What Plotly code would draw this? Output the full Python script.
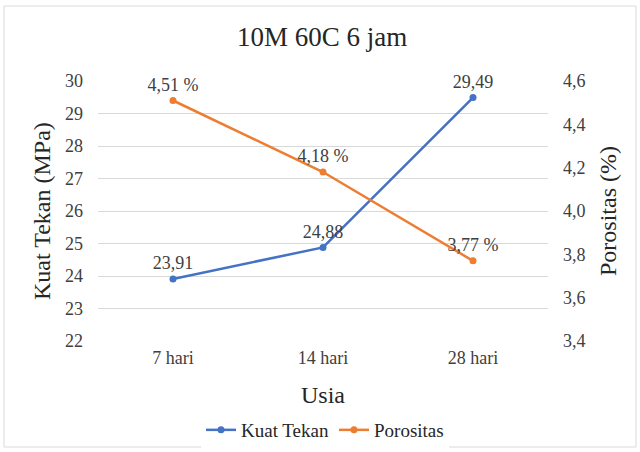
import plotly.graph_objects as go

categories = ["7 hari", "14 hari", "28 hari"]
kuat_tekan = [23.91, 24.88, 29.49]
porositas = [4.51, 4.18, 3.77]
kt_labels = ["23,91", "24,88", "29,49"]
po_labels = ["4,51 %", "4,18 %", "3,77 %"]

FONT = "Liberation Serif, Times New Roman, serif"
BLUE = "#4472C4"
ORANGE = "#ED7D31"
TXT = "#404040"
DARK = "#262626"

fig = go.Figure()
fig.add_trace(go.Scatter(
    x=categories, y=kuat_tekan, name="Kuat Tekan", mode="lines+markers+text",
    line=dict(color=BLUE, width=2.5), marker=dict(color=BLUE, size=7),
    text=kt_labels, textposition="top center",
    textfont=dict(family=FONT, size=18, color=TXT),
    yaxis="y", cliponaxis=False))
fig.add_trace(go.Scatter(
    x=categories, y=porositas, name="Porositas", mode="lines+markers+text",
    line=dict(color=ORANGE, width=2.5), marker=dict(color=ORANGE, size=7),
    text=po_labels, textposition="top center",
    textfont=dict(family=FONT, size=18, color=TXT),
    yaxis="y2", cliponaxis=False))

L, R, T, B = 98, 548, 81, 341
W, H = R - L, B - T

def px_to_paper_x(px):
    return (px - L) / W

def px_to_paper_y(py):
    return (B - py) / H

fig.update_layout(
    width=640, height=452,
    margin=dict(l=L, r=640 - R, t=T, b=452 - B, autoexpand=False),
    paper_bgcolor="white", plot_bgcolor="white",
    font=dict(family=FONT, size=18, color=TXT),
    separators=", ",
    showlegend=True,
    legend=dict(orientation="h", x=px_to_paper_x(325), xanchor="center",
                y=px_to_paper_y(430), yanchor="middle",
                font=dict(family=FONT, size=19, color=DARK), traceorder="normal",
                itemwidth=30),
    xaxis=dict(type="category", range=[-0.5, 2.5], showgrid=False, zeroline=False,
               showline=False, ticks="", automargin=False,
               tickfont=dict(family=FONT, size=18, color=TXT), ticklabelstandoff=4),
    yaxis=dict(range=[22, 30], dtick=1, showgrid=True, gridcolor="#D9D9D9", gridwidth=1,
               zeroline=False, showline=False, ticks="", automargin=False,
               tickfont=dict(family=FONT, size=18, color=TXT), ticklabelstandoff=14),
    yaxis2=dict(range=[3.4, 4.6], dtick=0.2, tickformat=".1f", overlaying="y", side="right",
                showgrid=False, zeroline=False, showline=False, ticks="", automargin=False,
                tickfont=dict(family=FONT, size=18, color=TXT), ticklabelstandoff=14),
    annotations=[
        dict(text="10M 60C 6 jam", x=px_to_paper_x(322), y=px_to_paper_y(37),
             xref="paper", yref="paper", showarrow=False, yanchor="middle",
             font=dict(family=FONT, size=27, color=DARK)),
        dict(text="Usia", x=px_to_paper_x(323), y=px_to_paper_y(395),
             xref="paper", yref="paper", showarrow=False, yanchor="middle",
             font=dict(family=FONT, size=24, color=DARK)),
        dict(text="Kuat Tekan (MPa)", x=px_to_paper_x(42), y=px_to_paper_y(211),
             xref="paper", yref="paper", showarrow=False, xanchor="center",
             textangle=-90, font=dict(family=FONT, size=24, color=DARK)),
        dict(text="Porositas (%)", x=px_to_paper_x(608), y=px_to_paper_y(211),
             xref="paper", yref="paper", showarrow=False, xanchor="center",
             textangle=-90, font=dict(family=FONT, size=24, color=DARK)),
    ],
    shapes=[dict(type="rect", xref="paper", yref="paper",
                 x0=px_to_paper_x(4), x1=px_to_paper_x(636),
                 y0=px_to_paper_y(447), y1=px_to_paper_y(6),
                 line=dict(color="#D9D9D9", width=1), fillcolor="rgba(0,0,0,0)", layer="below")],
)

fig.write_html("out.html", config={"displayModeBar": False},
               post_script="document.body.style.margin='0';")
